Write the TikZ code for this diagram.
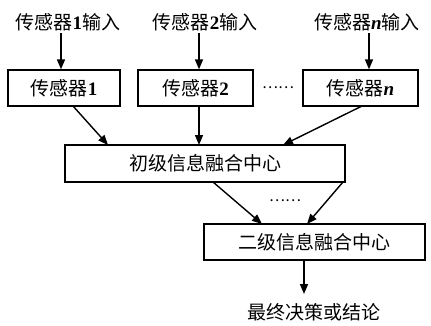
\documentclass[tikz,border=0pt]{standalone}
\usepackage{fontspec}
\setmainfont{Liberation Serif}
\newfontfamily\cjk{Noto Sans CJK SC}
\newcommand{\dg}[1]{{\rmfamily\bfseries #1}}
\newcommand{\nn}{{\rmfamily\bfseries\itshape n}}
\usetikzlibrary{arrows.meta}
\begin{document}
\begin{tikzpicture}[x=1pt,y=-1pt,
  every node/.style={font=\cjk\fontsize{19}{22}\selectfont, inner sep=0pt},
  box/.style={draw, line width=1.3pt, minimum height=36pt},
  arr/.style={line width=1.4pt, -{Triangle[length=10pt,width=8pt]}},
  dotsl/.style={font=\cjk\fontsize{15}{18}\selectfont}]
\useasboundingbox (0,0) rectangle (431,325);
% inputs
\node (in1) at (68,22) {传感器\dg{1}输入};
\node (in2) at (205,22) {传感器\dg{2}输入};
\node (inn) at (367,22) {传感器\nn 输入};
% sensor boxes
\node[box, minimum width=112pt] (b1) at (64,88) {传感器\dg{1}};
\node[box, minimum width=115pt] (b2) at (195.5,88) {传感器\dg{2}};
\node[box, minimum width=115pt] (bn) at (360.5,88) {传感器\nn};
\node[dotsl] (d1) at (278,88) {……};
% fusion
\node[box, minimum width=280pt, minimum height=37pt] (f1) at (205,163.5) {初级信息融合中心};
\node[dotsl] (d2) at (285,201) {……};
\node[box, minimum width=221pt] (f2) at (314.5,242) {二级信息融合中心};
\node (res) at (314,312) {最终决策或结论};
% coordinates
\coordinate (s1) at (61,33);
\coordinate (s2) at (199,33);
\coordinate (sn) at (369,33);
\coordinate (t1a) at (73,106);
\coordinate (t1b) at (108,145);
\coordinate (t2a) at (199,106);
\coordinate (t2b) at (199,145);
\coordinate (tna) at (362,106);
\coordinate (tnb) at (283,145);
\coordinate (u1a) at (213,182);
\coordinate (u1b) at (262,224);
\coordinate (u2a) at (343,182);
\coordinate (u2b) at (307,224);
\coordinate (va) at (304,260);
\coordinate (vb) at (304,294);
% arrows
\draw[arr] (s1) -- (s1 |- b1.north);
\draw[arr] (s2) -- (s2 |- b2.north);
\draw[arr] (sn) -- (sn |- bn.north);
\draw[arr] (t1a) -- (t1b);
\draw[arr] (t2a) -- (t2b);
\draw[arr] (tna) -- (tnb);
\draw[arr] (u1a) -- (u1b);
\draw[arr] (u2a) -- (u2b);
\draw[arr] (va) -- (vb);
\end{tikzpicture}
\end{document}
